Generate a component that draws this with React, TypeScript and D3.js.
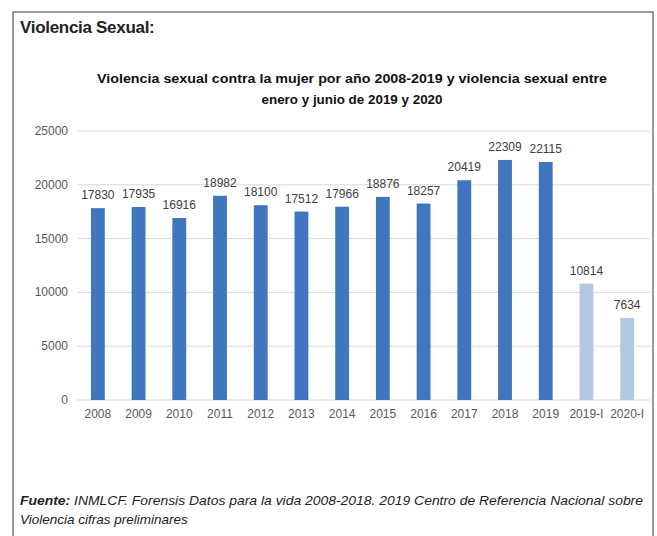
import React from "react";
import * as d3 from "d3";

const categories = ["2008","2009","2010","2011","2012","2013","2014","2015","2016","2017","2018","2019","2019-I","2020-I"];
const values = [17830,17935,16916,18982,18100,17512,17966,18876,18257,20419,22309,22115,10814,7634];
const partial = [false,false,false,false,false,false,false,false,false,false,false,false,true,true];
const yTicks = [0,5000,10000,15000,20000,25000];

export default function App() {
  const W = 657, H = 536;
  const x = d3.scaleBand().domain(categories).range([77.5, 647.5]).paddingInner(0.66).paddingOuter(0.33);
  const y = d3.scaleLinear().domain([0, 25000]).range([400, 131]);
  const bw = x.bandwidth();
  return (
    <svg width={W} height={H} style={{ position: "absolute", left: 0, top: 0, background: "#fff" }}
      fontFamily="'Liberation Sans', Arial, sans-serif">
      <rect x={13} y={12} width={640} height={530} fill="none" stroke="#555" strokeWidth={1.2} />
      <text x={20} y={33} fontSize={17} fontWeight="bold" fill="#222" letterSpacing={-0.3}>Violencia Sexual:</text>
      <text x={352} y={83} fontSize={13.5} fontWeight="bold" fill="#111" textAnchor="middle" textLength={510} lengthAdjust="spacingAndGlyphs">Violencia sexual contra la mujer por año 2008-2019 y violencia sexual entre</text>
      <text x={352} y={104} fontSize={13.5} fontWeight="bold" fill="#111" textAnchor="middle" textLength={181} lengthAdjust="spacingAndGlyphs">enero y junio de 2019 y 2020</text>
      {yTicks.map(t => (
        <g key={t}>
          <line x1={77} x2={650} y1={y(t)} y2={y(t)} stroke="#d9d9d9" strokeWidth={1} />
          <text x={68} y={y(t) + 4} fontSize={12} fill="#595959" textAnchor="end">{t}</text>
        </g>
      ))}
      {categories.map((c, i) => (
        <g key={c}>
          <rect x={x(c)!} y={y(values[i])} width={bw} height={y(0) - y(values[i])}
            fill={partial[i] ? "#b3c6e2" : "#3f76be"} />
          <text x={x(c)! + bw / 2} y={y(values[i]) - 9} fontSize={12} fill="#404040" textAnchor="middle">{values[i]}</text>
          <text x={x(c)! + bw / 2} y={418} fontSize={12} fill="#595959" textAnchor="middle">{c}</text>
        </g>
      ))}
      <text x={20} y={505} fontSize={13.5} fontStyle="italic" fill="#222" textLength={623} lengthAdjust="spacingAndGlyphs">
        <tspan fontWeight="bold">Fuente:</tspan> INMLCF. Forensis Datos para la vida 2008-2018. 2019 Centro de Referencia Nacional sobre
      </text>
      <text x={20} y={524} fontSize={13.5} fontStyle="italic" fill="#222">Violencia cifras preliminares</text>
    </svg>
  );
}
